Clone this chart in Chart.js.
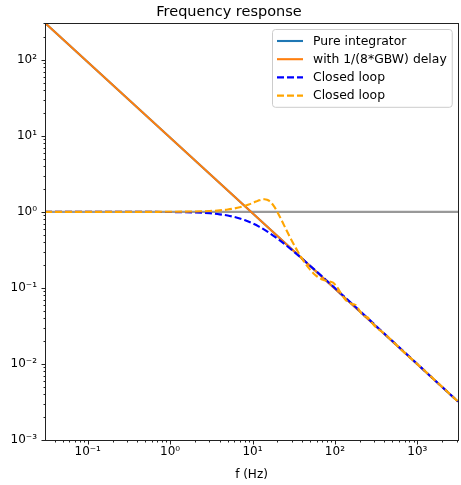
<!DOCTYPE html>
<html>
<head>
<meta charset="utf-8">
<script src="https://cdn.jsdelivr.net/npm/chart.js@4.4.0/dist/chart.umd.min.js"></script>
<style>
  html, body { margin: 0; padding: 0; background: #fff; }
</style>
</head>
<body>
<canvas id="freqChart" width="461" height="485"></canvas>
<script>
// axis ranges (Hz / magnitude)
const X_MIN = 0.0303, X_MAX = 3120;
const Y_MIN = 0.001, Y_MAX = 305;

const xMajors = [0.1, 1, 10, 100, 1000];
const xTickLabels = ["10⁻¹", "10⁰", "10¹", "10²", "10³"];
const yMajors = [0.001, 0.01, 0.1, 1, 10, 100];
const yTickLabels = ["10⁻³", "10⁻²", "10⁻¹", "10⁰", "10¹", "10²"];

// open loop: integrator, and the same integrator with a delay (same magnitude)
const openFreq = [0.0303, 3120];
const integratorMag = [305, 0.0032];
const delayedMag = [305, 0.0032];

// unity reference
const unityFreq = [0.0303, 3120];
const unityMag = [1, 1];

// closed loop, pure integrator
const loopFreq = [0.0303, 0.3, 1, 2, 3, 4, 5, 6, 7, 8, 10, 12, 15, 20, 30, 50, 100, 200, 500, 1000, 3120];
const loopMag = [1.0, 1.0, 0.995, 0.981, 0.958, 0.928, 0.894, 0.857, 0.819, 0.781, 0.707, 0.640, 0.555, 0.447, 0.316, 0.196, 0.0995, 0.05, 0.02, 0.01, 0.0032];

// closed loop, delayed integrator
const delayLoopFreq = [0.0303, 0.1, 0.3, 1, 2, 3, 4, 5, 6, 7, 8, 9, 10, 11, 12, 13, 14, 15, 16, 17, 18, 19, 20,
  22, 24, 26, 28, 30, 35, 40, 45, 50, 55, 60, 65, 70, 75, 80, 85, 90, 95, 100, 105, 110, 120, 130, 140, 150,
  160, 170, 180, 200, 220, 250, 300, 400, 500, 700, 1000, 2000, 3120];
const delayLoopMag = [1.0, 1.0, 1.0, 1.003, 1.012, 1.026, 1.047, 1.074, 1.108, 1.148, 1.196, 1.249, 1.306, 1.365, 1.417, 1.454, 1.466, 1.446, 1.391, 1.309, 1.209, 1.103, 1.0,
  0.818, 0.675, 0.566, 0.482, 0.417, 0.308, 0.243, 0.201, 0.174, 0.155, 0.143, 0.135, 0.129, 0.126, 0.124, 0.122, 0.120, 0.117, 0.111, 0.104, 0.097, 0.083, 0.073, 0.067, 0.064,
  0.062, 0.061, 0.059, 0.050, 0.0435, 0.041, 0.032, 0.025, 0.02, 0.0141, 0.01, 0.005, 0.0032];

const FONT = "'DejaVu Sans', sans-serif";

function pts(xs, ys) {
  return xs.map((x, i) => ({ x: x, y: ys[i] }));
}

// boxed legend in the upper right corner of the plot area
const legendBox = {
  id: "legendBox",
  afterDraw(chart) {
    const ctx = chart.ctx;
    const area = chart.chartArea;
    const items = chart.data.datasets.filter(d => d.inLegend);
    ctx.save();
    ctx.font = "12.4px " + FONT;
    const textW = Math.max(...items.map(d => ctx.measureText(d.label).width));
    const rowH = 18.2;
    const w = 5 + 26 + 10 + textW + 5;
    const h = items.length * rowH + 5;
    const x0 = Math.round(area.right - 6 - w);
    const y0 = Math.round(area.top + 6);
    ctx.beginPath();
    ctx.roundRect(x0 + 0.5, y0 + 0.5, w, h, 3);
    ctx.fillStyle = "rgba(255,255,255,0.8)";
    ctx.fill();
    ctx.strokeStyle = "#cccccc";
    ctx.lineWidth = 1;
    ctx.stroke();
    items.forEach((d, i) => {
      const cy = y0 + 12 + i * rowH;
      ctx.beginPath();
      ctx.setLineDash(d.borderDash || []);
      ctx.strokeStyle = d.borderColor;
      ctx.lineWidth = d.borderWidth;
      ctx.moveTo(x0 + 5, cy);
      ctx.lineTo(x0 + 31, cy);
      ctx.stroke();
      ctx.setLineDash([]);
      ctx.fillStyle = "#000";
      ctx.textBaseline = "middle";
      ctx.textAlign = "left";
      ctx.fillText(d.label, x0 + 41, cy + 0.5);
    });
    ctx.restore();
  }
};

// axes frame plus outward major/minor tick marks
const frameTicks = {
  id: "frameTicks",
  afterDraw(chart) {
    const ctx = chart.ctx;
    const a = chart.chartArea;
    const xs = chart.scales.x, ys = chart.scales.y;
    ctx.save();
    ctx.strokeStyle = "#222";
    ctx.lineWidth = 1;
    ctx.strokeRect(Math.round(a.left) + 0.5, Math.round(a.top) + 0.5,
      Math.round(a.right - a.left), Math.round(a.bottom - a.top));
    const marks = (min, max, fn) => {
      for (let d = Math.floor(Math.log10(min)); d <= Math.ceil(Math.log10(max)); d++) {
        for (let k = 1; k <= 9; k++) {
          const v = k * Math.pow(10, d);
          if (v < min * 0.999 || v > max * 1.001) continue;
          fn(v, k === 1 ? 4 : 2);
        }
      }
    };
    ctx.beginPath();
    marks(xs.min, xs.max, (v, len) => {
      const px = Math.round(xs.getPixelForValue(v)) + 0.5;
      ctx.moveTo(px, Math.round(a.bottom) + 0.5);
      ctx.lineTo(px, Math.round(a.bottom) + 0.5 + len);
    });
    marks(ys.min, ys.max, (v, len) => {
      const py = Math.round(ys.getPixelForValue(v)) + 0.5;
      ctx.moveTo(Math.round(a.left) + 0.5, py);
      ctx.lineTo(Math.round(a.left) + 0.5 - len, py);
    });
    ctx.stroke();
    ctx.restore();
  }
};

const lineBase = { pointRadius: 0, fill: false, borderWidth: 2.1 };
const DASH = [7, 3];

new Chart(document.getElementById("freqChart"), {
  type: "line",
  data: {
    datasets: [
      Object.assign({}, lineBase, {
        label: "Pure integrator", inLegend: true, order: 4,
        data: pts(openFreq, integratorMag), borderColor: "#1f77b4"
      }),
      Object.assign({}, lineBase, {
        label: "with 1/(8*GBW) delay", inLegend: true, order: 3,
        data: pts(openFreq, delayedMag), borderColor: "#ff7f0e"
      }),
      Object.assign({}, lineBase, {
        label: "Closed loop", inLegend: true, order: 2,
        data: pts(loopFreq, loopMag), borderColor: "#0000ff",
        borderDash: DASH, cubicInterpolationMode: "monotone"
      }),
      Object.assign({}, lineBase, {
        label: "Closed loop", inLegend: true, order: 1,
        data: pts(delayLoopFreq, delayLoopMag), borderColor: "#ffa500",
        borderDash: DASH, cubicInterpolationMode: "monotone"
      }),
      Object.assign({}, lineBase, {
        label: "unity", inLegend: false, order: 10,
        data: pts(unityFreq, unityMag), borderColor: "rgba(128,128,128,0.8)", borderWidth: 2.4
      })
    ]
  },
  options: {
    responsive: false,
    animation: false,
    layout: { padding: { right: 3 } },
    plugins: {
      legend: { display: false },
      tooltip: { enabled: false },
      title: {
        display: true,
        text: "Frequency response",
        color: "#000",
        font: { family: FONT, size: 14.5, weight: "normal", lineHeight: 1.1 },
        padding: { top: 4, bottom: 3 }
      }
    },
    scales: {
      x: {
        type: "logarithmic",
        min: X_MIN, max: X_MAX,
        grid: { display: false, drawTicks: false },
        border: { display: false },
        ticks: {
          autoSkip: false, maxRotation: 0, padding: 5,
          color: "#000", font: { family: FONT, size: 12 },
          callback: (v, i) => xTickLabels[i]
        },
        afterBuildTicks: s => { s.ticks = xMajors.map(v => ({ value: v })); },
        afterFit: s => { s.height = 45; },
        title: {
          display: true, text: "f (Hz)", color: "#000",
          font: { family: FONT, size: 12 }, padding: { top: 0, bottom: 3 }
        }
      },
      y: {
        type: "logarithmic",
        min: Y_MIN, max: Y_MAX,
        grid: { display: false, drawTicks: false },
        border: { display: false },
        ticks: {
          autoSkip: false, padding: 8,
          color: "#000", font: { family: FONT, size: 12 },
          callback: (v, i) => yTickLabels[i]
        },
        afterBuildTicks: s => { s.ticks = yMajors.map(v => ({ value: v })); },
        afterFit: s => { s.width = 45; }
      }
    }
  },
  plugins: [frameTicks, legendBox]
});
</script>
</body>
</html>
